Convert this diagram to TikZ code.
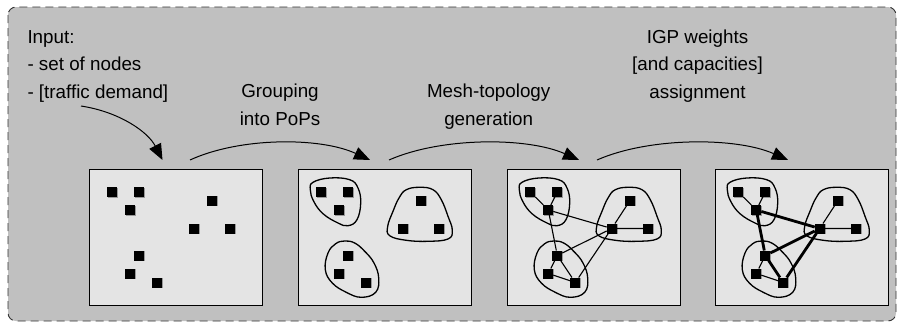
\documentclass[tikz,border=0pt]{standalone}
\usepackage{fontspec}
\setmainfont{Liberation Sans}
\usetikzlibrary{arrows.meta,shadows}
\definecolor{bggray}{HTML}{C0C0C0}
\definecolor{panelgray}{HTML}{E4E4E4}

\tikzset{
  frame/.style={draw=black!80, dash pattern=on 8pt off 5pt, line width=0.9pt,
    fill=bggray, rounded corners=8pt},
  panelbox/.style={draw=black, fill=panelgray, line width=1pt},
  sq/.style={fill=black, minimum size=10pt, inner sep=0pt, outer sep=0pt,
    general shadow={fill=black!40, shadow xshift=0.8pt, shadow yshift=-0.8pt}},
  blob/.style={draw=black, line width=1.3pt},
  thinlink/.style={line width=1.1pt},
  thicklink/.style={line width=2.8pt},
  flow/.style={-{Triangle[length=16pt,width=13pt]}, line width=1pt},
  caption/.style={font=\fontsize{18.8}{27.5}\selectfont, align=center, inner sep=0pt},
}

% panel background
\newcommand\panelframe[1]{\draw[panelbox] (#1,169) rectangle ++(173,136);}

% the nine router squares of a panel, named <prefix>a ... <prefix>i
\newcommand\routerpanel[2]{%
  \begin{scope}[shift={(#2,169)}]
    \node[sq] (#1a) at (23.3,23) {};
    \node[sq] (#1b) at (50.3,23) {};
    \node[sq] (#1c) at (41.3,41) {};
    \node[sq] (#1d) at (123,31.5) {};
    \node[sq] (#1e) at (104.7,59.5) {};
    \node[sq] (#1f) at (141,59.5) {};
    \node[sq] (#1g) at (50.3,86.5) {};
    \node[sq] (#1h) at (41.3,104.5) {};
    \node[sq] (#1i) at (68.3,113.5) {};
  \end{scope}}

% the three PoP outlines of a panel
\newcommand\popoutlines[1]{%
  \begin{scope}[shift={(#1,169)}]
    \draw[blob] plot[smooth cycle, tension=0.7] coordinates {
      (31.7,9) (15,13.3) (12.3,20.7) (15.7,32.3) (25,44.7) (40,54)
      (50,56.7) (59,50.7) (62.7,34) (60,19) (51.7,10.7)};
    \draw[blob] plot[smooth cycle, tension=0.7] coordinates {
      (121.7,18.3) (108.3,20.7) (101,29) (95,42.3) (89.7,57.3) (91.7,66.7)
      (108.3,71.3) (130,72.3) (150,70) (154.3,61.3) (150,47.3) (143.3,30.7)
      (135,20.7)};
    \draw[blob] plot[smooth cycle, tension=0.7] coordinates {
      (46.7,72) (56.7,74) (66.7,82.3) (76,94) (80.7,109) (77.7,123.3)
      (63.3,128.3) (48.3,123.3) (34.3,114) (27.3,100.7) (30,84) (37.7,74.7)};
  \end{scope}}

\begin{document}
\begin{tikzpicture}[x=1pt,y=-1pt]
  \useasboundingbox (0,0) rectangle (900,327);
  \draw[frame] (8,7) rectangle (896,321);

  % step labels (base anchor sits on the last line)
  \node[caption, align=left, anchor=base west] (input) at (27.3,98.3)
    {Input:\\- set of nodes\\- [traffic demand]};
  \node[caption, anchor=base] (grp) at (280,125.3) {Grouping\\into PoPs};
  \node[caption, anchor=base] (mesh) at (488.7,125.3) {Mesh-topology\\generation};
  \node[caption, anchor=base] (igp) at (697.5,98.3)
    {IGP weights\\{}[and capacities]\\assignment};

  % panel 1: bare nodes
  \panelframe{89}
  \routerpanel{p}{89}

  % panel 2: nodes grouped into PoPs
  \panelframe{298}
  \popoutlines{298}
  \routerpanel{q}{298}

  % panel 3: mesh topology
  \panelframe{507}
  \popoutlines{507}
  \routerpanel{r}{507}
  \draw[thinlink] (ra) -- (rc) (rb) -- (rc) (rc) -- (re) (rc) -- (rg)
    (rd) -- (re) (re) -- (rf) (rg) -- (re) (rg) -- (rh) (rg) -- (ri)
    (rh) -- (ri) (ri) -- (re);

  % panel 4: weighted backbone links
  \panelframe{715}
  \popoutlines{715}
  \routerpanel{s}{715}
  \draw[thinlink] (sa) -- (sc) (sb) -- (sc) (sd) -- (se) (se) -- (sf)
    (sg) -- (sh) (sh) -- (si);
  \draw[thicklink] (sc) -- (se) (sc) -- (sg) (sg) -- (se) (sg) -- (si)
    (si) -- (se);

  % flow arrows between the steps
  \coordinate (s1) at (81,106);  \coordinate (t1) at (162.5,160);
  \coordinate (s2) at (190,160); \coordinate (t2) at (370,160);
  \coordinate (s3) at (389,160); \coordinate (t3) at (579,160);
  \coordinate (s4) at (597,160); \coordinate (t4) at (788,160);
  \draw[flow] (s1) .. controls (120,112) and (148,132) .. (t1);
  \draw[flow] (s2) .. controls (240,137) and (320,137) .. (t2);
  \draw[flow] (s3) .. controls (441,137) and (527,137) .. (t3);
  \draw[flow] (s4) .. controls (649,137) and (736,137) .. (t4);
\end{tikzpicture}
\end{document}
